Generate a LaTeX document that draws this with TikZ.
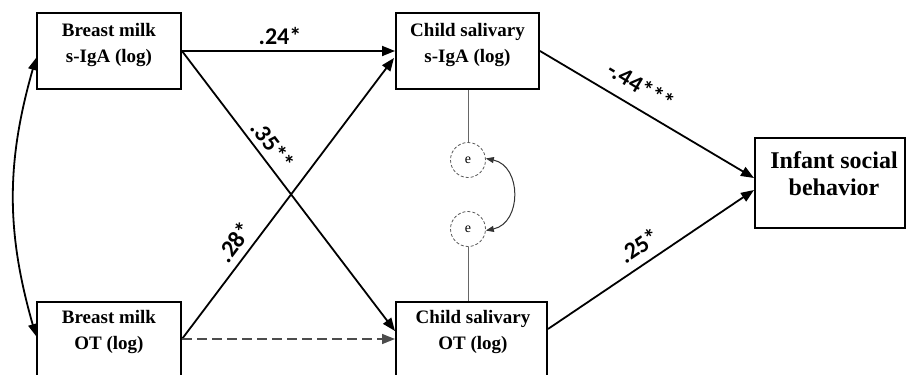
\documentclass[tikz,border=0pt]{standalone}
\usepackage{fontspec}
\setmainfont{Liberation Serif}
\newfontfamily\lblfont{Carlito}
\usetikzlibrary{arrows.meta,calc}
\begin{document}
\begin{tikzpicture}[x=1pt,y=-1pt,
  box/.style={draw, line width=2pt, inner sep=0pt},
  boxtext/.style={font=\bfseries\fontsize{19}{26}\selectfont, align=center, inner sep=0pt},
  bigtext/.style={font=\bfseries\fontsize{24}{27}\selectfont, align=center, inner sep=0pt},
  arrowline/.style={line width=1.8pt, -{Triangle[length=13pt,width=10pt]}},
  dashline/.style={line width=1.5pt, draw=black!70, dash pattern=on 10pt off 5pt, -{Triangle[length=13pt,width=10pt]}},
  coef/.style={font=\lblfont\bfseries\fontsize{24}{24}\selectfont, inner sep=0pt, sloped},
  errnode/.style={circle, draw=black!65, densely dashed, line width=0.8pt, minimum size=35pt, inner sep=0pt, font=\fontsize{14}{14}\selectfont},
  thinline/.style={draw=black!60, line width=1pt}
]
\useasboundingbox (0,0) rectangle (906,375);

% boxes
\node[box, minimum width=144pt, minimum height=76pt] (a) at (109,51) {};
\node[boxtext] (at) at (109,45) {Breast milk\\s-IgA (log)};
\node[box, minimum width=144pt, minimum height=80pt] (b) at (109,342) {};
\node[boxtext] (bt) at (109,332) {Breast milk\\OT (log)};
\node[box, minimum width=143pt, minimum height=76pt] (c) at (467.5,51) {};
\node[boxtext] (ct) at (467.5,45) {Child salivary\\s-IgA (log)};
\node[box, minimum width=151pt, minimum height=80pt] (d) at (471.5,342) {};
\node[boxtext] (dt) at (473,332) {Child salivary\\OT (log)};
\node[box, minimum width=150pt, minimum height=90pt] (e) at (830,183) {};
\node[bigtext] (et) at (834,173.5) {Infant social\\behavior};

% error terms
\node[errnode] (e1) at (468,160) {e};
\node[errnode] (e2) at (468,229) {e};
\draw[thinline] (c.south -| e1.north) -- (e1.north);
\draw[thinline] (e2.south) -- (e2.south |- d.north);
\draw[line width=1pt, draw=black!80, {Triangle[length=8pt,width=6pt]}-{Triangle[length=8pt,width=6pt]}]
  (e1.5) .. controls (522,166) and (522,223) .. (e2.-5);

% left correlation
\draw[line width=1.8pt, {Triangle[length=12pt,width=9pt]}-{Triangle[length=12pt,width=9pt]}]
  ($(a.west)+(0,7)$) to[bend right=16] ($(b.north west)+(0,35)$);

% paths
\draw[arrowline] (a.east) -- (c.west)
  node[coef, pos=0.46, above=5pt] (l1) {.24*};
\draw[arrowline] (a.east) -- ($(d.north west)+(0,30)$)
  node[coef, pos=0.37, above=6pt] (l2) {.35**};
\draw[arrowline] ($(b.north east)+(0,38)$) -- ($(c.west)+(-1,7)$)
  node[coef, pos=0.31, above=7pt] (l3) {.28*};
\draw[dashline] ($(b.north east)+(0,38)$) -- ($(d.north west)+(0,38)$);
\draw[arrowline] (c.east) -- ($(e.west)+(0,-5)$)
  node[coef, pos=0.42, above=12pt] (l4) {-.44***};
\draw[arrowline] ($(d.north east)+(0,28)$) -- ($(e.west)+(0,7)$)
  node[coef, pos=0.49, above=9pt] (l5) {.25*};
\end{tikzpicture}
\end{document}
